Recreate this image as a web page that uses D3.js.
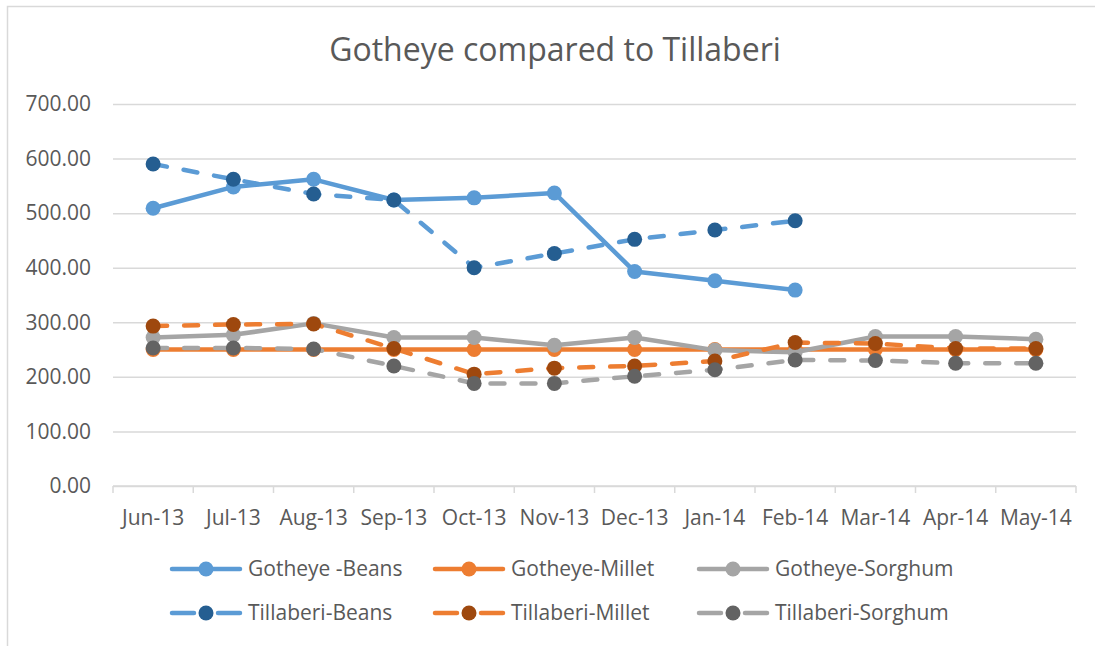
<!DOCTYPE html>
<html>
<head>
<meta charset="utf-8">
<script src="https://cdn.jsdelivr.net/npm/d3@7"></script>
<style>
  body { margin: 0; background: #fff; }
  svg { display: block; font-family: "Open Sans", sans-serif; }
</style>
</head>
<body>
<svg id="chart" width="1095" height="646"></svg>
<script>
// Chart data
const months = ["Jun-13", "Jul-13", "Aug-13", "Sep-13", "Oct-13", "Nov-13",
                "Dec-13", "Jan-14", "Feb-14", "Mar-14", "Apr-14", "May-14"];
const yTicks = [0, 100, 200, 300, 400, 500, 600, 700];

const gotheyeBeans     = [509, 548, 562, 524, 528, 537, 393, 376, 359, null, null, null];
const gotheyeMillet    = [250, 250, 250, 250, 250, 250, 250, 250, 250, 250, 250, 250];
const gotheyeSorghum   = [272, 277, 298, 272, 272, 258, 272, 249, 245, 274, 274, 269];
const tillaberiBeans   = [590, 562, 535, 524, 400, 426, 452, 469, 486, null, null, null];
const tillaberiMillet  = [293, 296, 297, 252, 205, 216, 220, 229, 263, 261, 252, 252];
const tillaberiSorghum = [253, 253, 251, 220, 188, 188, 201, 213, 231, 230, 225, 225];

const seriesNames = ["Gotheye -Beans", "Gotheye-Millet", "Gotheye-Sorghum",
                     "Tillaberi-Beans", "Tillaberi-Millet", "Tillaberi-Sorghum"];

// series table built from the arrays above
const series = [
  { name: seriesNames[0], values: gotheyeBeans,     line: "#5B9BD5", dot: "#5B9BD5", dashed: false },
  { name: seriesNames[1], values: gotheyeMillet,    line: "#ED7D31", dot: "#ED7D31", dashed: false },
  { name: seriesNames[2], values: gotheyeSorghum,   line: "#A5A5A5", dot: "#A5A5A5", dashed: false },
  { name: seriesNames[3], values: tillaberiBeans,   line: "#5B9BD5", dot: "#255E91", dashed: true },
  { name: seriesNames[4], values: tillaberiMillet,  line: "#ED7D31", dot: "#9E480E", dashed: true },
  { name: seriesNames[5], values: tillaberiSorghum, line: "#A5A5A5", dot: "#636363", dashed: true }
];

const textColor = "#595959";
const gridColor = "#D9D9D9";
const lineWidth = 4.5;
const dotR = 7.5;

const svg = d3.select("#chart");

// outer chart border (cut off on right and bottom like the screenshot)
svg.append("rect")
  .attr("x", 7.5).attr("y", 6.5)
  .attr("width", 1300).attr("height", 1000)
  .attr("fill", "#fff")
  .attr("stroke", gridColor)
  .attr("stroke-width", 1.5);

// title
svg.append("text")
  .attr("x", 555).attr("y", 61)
  .attr("text-anchor", "middle")
  .attr("fill", textColor)
  .style("font-size", "32px")
  .text("Gotheye compared to Tillaberi");

// scales
const plotLeft = 113, plotRight = 1076, plotTop = 104, plotBottom = 486;
const x = d3.scaleBand().domain(months).range([plotLeft, plotRight]).padding(0);
const y = d3.scaleLinear().domain([0, 700]).range([plotBottom, plotTop]);

// gridlines + y labels
const yAxis = d3.axisLeft(y)
  .tickValues(yTicks)
  .tickSize(-(plotRight - plotLeft))
  .tickPadding(22)
  .tickFormat(d3.format(".2f"));

svg.append("g")
  .attr("transform", `translate(${plotLeft},0)`)
  .call(yAxis)
  .call(g => g.select(".domain").remove())
  .call(g => g.selectAll(".tick line").attr("stroke", gridColor).attr("stroke-width", 1.5))
  .call(g => g.selectAll(".tick text")
    .attr("fill", textColor)
    .style("font-size", "21px")
    .style("font-family", "'Open Sans', sans-serif"));

// x axis with ticks between categories
const xAxisG = svg.append("g").attr("transform", `translate(0,${plotBottom})`);
xAxisG.append("line")
  .attr("x1", plotLeft).attr("x2", plotRight)
  .attr("stroke", gridColor).attr("stroke-width", 1.5);
xAxisG.selectAll(".xtick")
  .data(months.concat(["end"]))
  .enter().append("line")
  .attr("class", "xtick")
  .attr("x1", (d, i) => i < months.length ? x(d) : plotRight)
  .attr("x2", (d, i) => i < months.length ? x(d) : plotRight)
  .attr("y1", 0).attr("y2", 7)
  .attr("stroke", gridColor).attr("stroke-width", 1.5);
xAxisG.selectAll(".xlabel")
  .data(months)
  .enter().append("text")
  .attr("class", "xlabel")
  .attr("x", d => x(d) + x.bandwidth() / 2)
  .attr("y", 39)
  .attr("text-anchor", "middle")
  .attr("fill", textColor)
  .style("font-size", "21px")
  .text(d => d);

// lines and markers
const line = d3.line()
  .defined(d => d != null)
  .x((d, i) => x(months[i]) + x.bandwidth() / 2)
  .y(d => y(d));

series.forEach(s => {
  const g = svg.append("g");
  g.append("path")
    .datum(s.values)
    .attr("d", line)
    .attr("fill", "none")
    .attr("stroke", s.line)
    .attr("stroke-width", lineWidth)
    .attr("stroke-linejoin", "round")
    .attr("stroke-linecap", "round")
    .attr("stroke-dasharray", s.dashed ? "14,17" : null);
  g.selectAll("circle")
    .data(s.values.map((v, i) => ({ v, m: months[i] })).filter(d => d.v != null))
    .enter().append("circle")
    .attr("cx", d => x(d.m) + x.bandwidth() / 2)
    .attr("cy", d => y(d.v))
    .attr("r", dotR)
    .attr("fill", s.dot);
});

// legend
const legendCols = [170, 433, 697];
const legendRows = [569, 613];
series.forEach((s, i) => {
  const lx = legendCols[i % 3];
  const ly = legendRows[Math.floor(i / 3)];
  const g = svg.append("g");
  g.append("line")
    .attr("x1", lx + 2).attr("x2", lx + 70)
    .attr("y1", ly).attr("y2", ly)
    .attr("stroke", s.line)
    .attr("stroke-width", lineWidth)
    .attr("stroke-linecap", "round")
    .attr("stroke-dasharray", s.dashed ? "22,24" : null);
  g.append("circle")
    .attr("cx", lx + 36).attr("cy", ly)
    .attr("r", dotR)
    .attr("fill", s.dot);
  g.append("text")
    .attr("x", lx + 78).attr("y", ly)
    .attr("dy", "0.35em")
    .attr("fill", textColor)
    .style("font-size", "21px")
    .text(s.name);
});
</script>
</body>
</html>
